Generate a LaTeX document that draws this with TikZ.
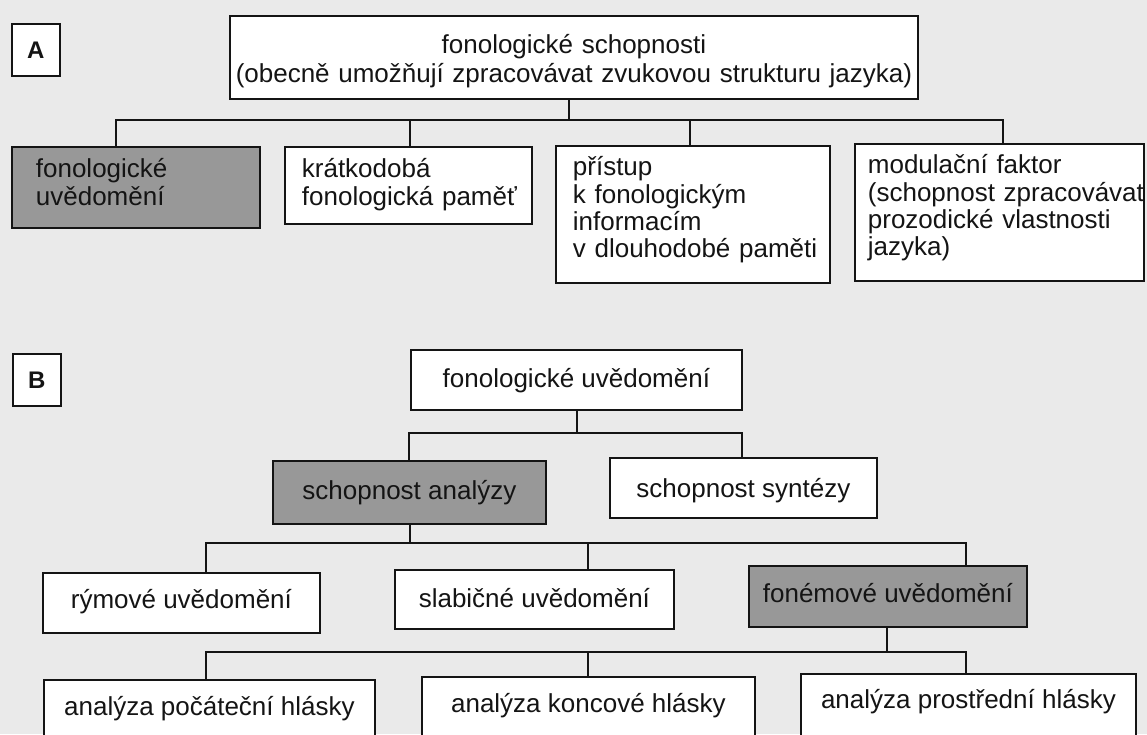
\documentclass[tikz,border=0pt]{standalone}
\usepackage{fontspec}
\setmainfont{Liberation Sans}
\definecolor{paper}{RGB}{234,234,234}
\definecolor{boxgrey}{RGB}{152,152,152}
\definecolor{ink}{RGB}{20,20,20}
\begin{document}
\begin{tikzpicture}[x=1pt,y=-1pt,
  every node/.style={font=\fontsize{26}{27.3}\selectfont, text=ink},
  box/.style={draw=ink, line width=1.8pt, fill=white, inner ysep=0pt, anchor=north west},
  greybox/.style={box, fill=boxgrey},
  cbox/.style={box, inner xsep=0pt},
  labelbox/.style={draw=ink, line width=1.8pt, fill=white, minimum width=48pt, minimum height=52pt, inner sep=0pt, font=\fontsize{24}{24}\selectfont\bfseries, anchor=north west},
  conn/.style={draw=ink, line width=1.8pt},
]
\useasboundingbox (0,0) rectangle (1147,734);
\clip (0,0) rectangle (1147,734);
\fill[paper] (0,0) rectangle (1147,734);

% ---------- A ----------
\node[labelbox] (labA) at (11,23) {A};
\node[box, align=center, text width=688pt, inner xsep=0pt, text height=38pt, text depth=45pt,
      font=\fontsize{26}{29}\selectfont] (topA) at (229,15)
  {\mbox{fonologické schopnosti}\\\mbox{(obecně umožňují zpracovávat zvukovou strukturu jazyka)}};

\node[greybox, align=left, inner xsep=24pt, text width=200pt, text height=31pt, text depth=50pt] (fu) at (11,146)
  {\mbox{fonologické}\\\mbox{uvědomění}};
\node[box, align=left, inner xsep=17pt, text width=213pt, text height=31pt, text depth=46pt] (kfp) at (284,146)
  {\mbox{krátkodobá}\\\mbox{fonologická paměť}};
\node[box, align=left, inner xsep=17pt, text width=240pt, text height=30pt, text depth=107pt] (pk) at (555,145)
  {\mbox{přístup}\\\mbox{k fonologickým}\\\mbox{informacím}\\\mbox{v dlouhodobé paměti}};
\node[box, align=left, inner xsep=13pt, text width=263pt, text height=30pt, text depth=107pt] (mf) at (854,143)
  {\mbox{modulační faktor}\\\mbox{(schopnost zpracovávat}\\\mbox{prozodické vlastnosti}\\\mbox{jazyka)}};

\coordinate (jA) at (569,120);
\coordinate (a1) at (116,120);
\coordinate (a2) at (410,120);
\coordinate (a3) at (690,120);
\coordinate (a4) at (1003,120);
\draw[conn] (topA.south -| jA) -- (jA);
\draw[conn] (a1 |- fu.north) -- (a1) -- (a4) -- (a4 |- mf.north);
\draw[conn] (a2) -- (a2 |- kfp.north);
\draw[conn] (a3) -- (a3 |- pk.north);

% ---------- B ----------
\node[labelbox] (labB) at (12,353) {B};
\node[cbox, minimum width=331pt, text height=38pt, text depth=22pt] (fuB) at (410,349) {fonologické uvědomění};

\node[greybox, inner xsep=0pt, minimum width=273pt, text height=39pt, text depth=24pt] (an) at (272,460) {schopnost analýzy};
\node[cbox, minimum width=267pt, text height=40pt, text depth=20pt] (sy) at (609,457) {schopnost syntézy};

\coordinate (jB1) at (577,433);
\coordinate (b1) at (409,433);
\coordinate (b2) at (742,433);
\draw[conn] (fuB.south -| jB1) -- (jB1);
\draw[conn] (b1 |- an.north) -- (b1) -- (b2) -- (b2 |- sy.north);

\node[cbox, minimum width=277pt, text height=36pt, text depth=24pt] (rym) at (42,572) {rýmové uvědomění};
\node[cbox, minimum width=279pt, text height=38pt, text depth=21pt] (sla) at (394,569) {slabičné uvědomění};
\node[greybox, inner xsep=0pt, minimum width=278pt, text height=37pt, text depth=24pt] (fon) at (748,565) {fonémové uvědomění};

\coordinate (jB2) at (410,543);
\coordinate (c1) at (206,543);
\coordinate (c2) at (588,543);
\coordinate (c3) at (966,543);
\draw[conn] (an.south -| jB2) -- (jB2);
\draw[conn] (c1 |- rym.north) -- (c1) -- (c3) -- (c3 |- fon.north);
\draw[conn] (c2) -- (c2 |- sla.north);

\node[cbox, minimum width=331pt, text height=36pt, text depth=60pt] (poc) at (43,679) {analýza počáteční hlásky};
\node[cbox, minimum width=333pt, text height=36pt, text depth=60pt] (kon) at (421,676) {analýza koncové hlásky};
\node[cbox, minimum width=335pt, text height=35pt, text depth=60pt] (pro) at (800,673) {analýza prostřední hlásky};

\coordinate (jB3) at (887,652);
\coordinate (d1) at (206,652);
\coordinate (d2) at (588,652);
\coordinate (d3) at (966,652);
\draw[conn] (fon.south -| jB3) -- (jB3);
\draw[conn] (d1 |- poc.north) -- (d1) -- (d3) -- (d3 |- pro.north);
\draw[conn] (d2) -- (d2 |- kon.north);
\end{tikzpicture}
\end{document}
